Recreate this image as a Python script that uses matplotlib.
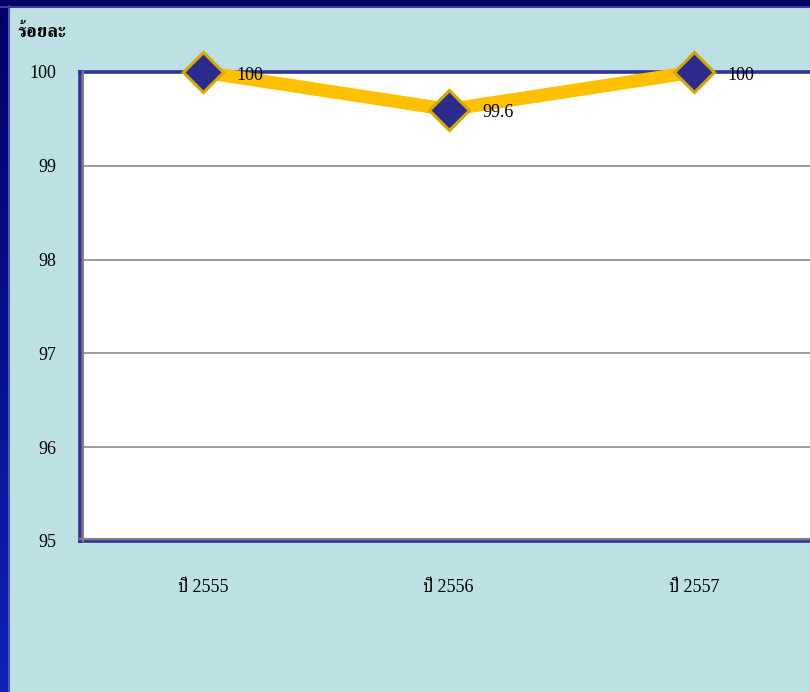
import matplotlib
matplotlib.use("Agg")
import matplotlib.pyplot as plt
import matplotlib.transforms as mtransforms
import numpy as np

# data
years = ["ปี 2555", "ปี 2556", "ปี 2557"]
percent = [100, 99.6, 100]
y_ticks = [95, 96, 97, 98, 99, 100]

bg = "#BCE0E3"
navy = "#333399"
gold = "#FFC000"
font = ["Liberation Serif", "FreeSerif"]

W, H = 810, 692
fig = plt.figure(figsize=(W / 100, H / 100), dpi=100)
fig.patch.set_facecolor(bg)

# slide frame: dark band on top, gradient band on the left
top = fig.add_axes([0, 1 - 6 / H, 1, 6 / H])
top.set_facecolor("#000066")
top.set_xticks([]); top.set_yticks([])
for s in top.spines.values():
    s.set_visible(False)
fig.add_artist(plt.Line2D([0, 1], [1 - 6.5 / H] * 2, transform=fig.transFigure, color="#3A3AA0", lw=1.5))

left = fig.add_axes([0, 0, 8 / W, 1])
grad = np.linspace(0, 1, 256).reshape(-1, 1)
cmap = matplotlib.colors.LinearSegmentedColormap.from_list("frame", ["#000066", "#0F22B8"])
left.imshow(grad, aspect="auto", cmap=cmap, extent=[0, 1, 0, 1], origin="upper")
left.set_axis_off()
fig.add_artist(plt.Line2D([8.5 / W] * 2, [0, 1 - 6 / H], transform=fig.transFigure, color="#3A3AA0", lw=1.2))

# plot area
ax = fig.add_axes([80 / W, 1 - 541 / H, 1 - 80 / W, (541 - 72) / H])
ax.set_facecolor("white")
x = np.arange(len(years))
ax.set_xlim(-0.5, 2.47)
ax.set_ylim(95, 100)

ax.set_yticks(y_ticks)
ax.set_yticklabels([str(v) for v in y_ticks], family=font, fontsize=13)
ax.set_xticks(x)
ax.set_xticklabels(years, family=font, fontsize=13)
ax.tick_params(axis="y", length=0, pad=17)
ax.tick_params(axis="x", length=0, pad=27)

for v in y_ticks[1:-1]:
    ax.axhline(v, color="#808080", lw=1.1, zorder=1)

ax.spines["right"].set_visible(False)
for side in ["left", "top", "bottom"]:
    ax.spines[side].set_color(navy)
    ax.spines[side].set_linewidth(2.6)
# thin grey inner edge on the left and bottom borders
off_left = mtransforms.offset_copy(ax.transAxes, fig=fig, x=2.5, y=0, units="dots")
ax.plot([0, 0], [0, 1], color="#808080", lw=1.5, transform=off_left, clip_on=False, zorder=3)
off_bot = mtransforms.offset_copy(ax.transAxes, fig=fig, x=0, y=2.5, units="dots")
ax.plot([0, 1], [0, 0], color="#808080", lw=1.5, transform=off_bot, clip_on=False, zorder=3)

ax.plot(x, percent, color=gold, lw=9.5, solid_capstyle="butt", clip_on=False, zorder=5)
ax.plot(x, percent, linestyle="none", marker="D", markersize=20, markerfacecolor="#2B2B8C",
        markeredgecolor="#D4A800", markeredgewidth=2.2, clip_on=False, zorder=6)

for xi, v in zip(x, percent):
    ax.annotate(f"{v:g}", (xi, v), xytext=(24, -2.5), textcoords="offset points",
                ha="left", va="center", family=font, fontsize=13, zorder=7,
                annotation_clip=False)

fig.text(17 / W, 1 - 32 / H, "ร้อยละ", family=font, fontsize=13.5, fontweight="bold",
         ha="left", va="center")

fig.savefig("out.png", facecolor=bg)
